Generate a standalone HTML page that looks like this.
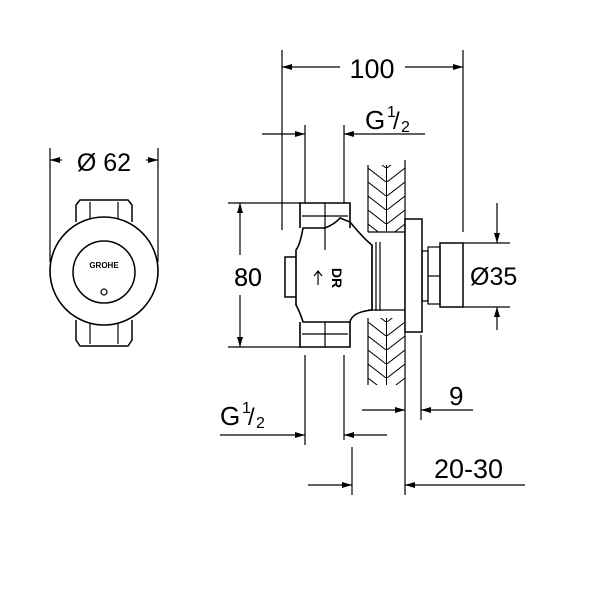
<!DOCTYPE html>
<html><head><style>body{margin:0;background:#fff}svg{display:block}text{font-family:"Liberation Sans",sans-serif;fill:#000}</style></head><body>
<svg width="600" height="600" viewBox="0 0 600 600" xmlns="http://www.w3.org/2000/svg">
<defs>
<marker id="a" viewBox="0 0 10 6" refX="10" refY="3" markerWidth="14" markerHeight="6" markerUnits="userSpaceOnUse" orient="auto"><path d="M0,0L10,3L0,6z" fill="#000"/></marker>
<pattern id="h" width="37" height="14" patternUnits="userSpaceOnUse" x="368" y="0"><path d="M0,0L18,14M37,0L19,14M18.5,0V14" stroke="#000" stroke-width="1" fill="none"/></pattern>
</defs>
<g stroke="#000" stroke-width="1.2" fill="none">
<line x1="50" y1="148" x2="50" y2="262"/><line x1="158" y1="148" x2="158" y2="262"/>
<line x1="62" y1="160" x2="50" y2="160" marker-end="url(#a)"/><line x1="146" y1="160" x2="158" y2="160" marker-end="url(#a)"/>
<path d="M76,222V205L80,200H128L132,205V222" stroke-width="1.5"/>
<path d="M76,320V340L80,346H128L132,340V320" stroke-width="1.5"/>
<line x1="90" y1="202" x2="90" y2="220"/><line x1="118" y1="202" x2="118" y2="220"/>
<line x1="90" y1="324" x2="90" y2="344"/><line x1="118" y1="324" x2="118" y2="344"/>
<circle cx="104" cy="271" r="54" fill="#fff" stroke-width="1.6"/>
<circle cx="104" cy="272" r="31" stroke-width="1.5"/>
<circle cx="104" cy="292" r="3"/>
<line x1="282" y1="50" x2="282" y2="230"/><line x1="463" y1="50" x2="463" y2="232"/>
<line x1="340" y1="67" x2="282" y2="67" marker-end="url(#a)"/><line x1="405" y1="67" x2="463" y2="67" marker-end="url(#a)"/>
<line x1="305" y1="125" x2="305" y2="203"/><line x1="344" y1="125" x2="344" y2="203"/>
<line x1="262" y1="134" x2="305" y2="134" marker-end="url(#a)"/><line x1="425" y1="134" x2="344" y2="134" marker-end="url(#a)"/>
<line x1="228" y1="203" x2="300" y2="203"/><line x1="228" y1="347" x2="300" y2="347"/>
<line x1="240" y1="255" x2="240" y2="203" marker-end="url(#a)"/><line x1="240" y1="295" x2="240" y2="347" marker-end="url(#a)"/>
<rect x="368" y="165" width="37" height="67" fill="url(#h)" stroke="none"/>
<rect x="368" y="318" width="37" height="67" fill="url(#h)" stroke="none"/>
<line x1="368" y1="165" x2="368" y2="232"/><line x1="368" y1="318" x2="368" y2="385"/>
<line x1="405" y1="160" x2="405" y2="495"/>
<line x1="368" y1="232" x2="405" y2="232"/><line x1="368" y1="310" x2="405" y2="310"/>
<path d="M300,228V203H350V228" stroke-width="1.6"/>
<line x1="325" y1="203" x2="325" y2="250"/><line x1="302" y1="216" x2="348" y2="216"/>
<path d="M300,322V347H350V322" stroke-width="1.6"/>
<line x1="325" y1="322" x2="325" y2="347"/><line x1="302" y1="334" x2="348" y2="334"/>
<path d="M303,228Q300,245 296,250V305Q300,312 303,322H350Q352,312 372,310V245Q365,240 350,222L340,218Q335,224 325,228Z" stroke-width="1.6"/>
<path d="M296,257H285V297H296" stroke-width="1.5"/>
<line x1="372" y1="245" x2="372" y2="310"/><line x1="376" y1="242" x2="376" y2="311"/><line x1="380" y1="242" x2="380" y2="311"/>
<path d="M318,285V272M314,276L318,271L322,276"/>
<rect x="405" y="219" width="17" height="113" fill="#fff" stroke-width="1.5"/>
<rect x="422" y="251" width="6" height="50"/>
<rect x="428" y="247" width="12" height="57"/>
<line x1="428" y1="276" x2="440" y2="276"/>
<rect x="440" y="243" width="23" height="64" stroke-width="1.5"/>
<line x1="463" y1="243" x2="510" y2="243"/><line x1="463" y1="307" x2="510" y2="307"/>
<line x1="497" y1="203" x2="497" y2="243" marker-end="url(#a)"/><line x1="497" y1="330" x2="497" y2="307" marker-end="url(#a)"/>
<line x1="305" y1="355" x2="305" y2="445"/><line x1="344" y1="355" x2="344" y2="440"/>
<line x1="220" y1="435" x2="305" y2="435" marker-end="url(#a)"/><line x1="387" y1="435" x2="344" y2="435" marker-end="url(#a)"/>
<line x1="421" y1="335" x2="421" y2="420"/>
<line x1="362" y1="410" x2="405" y2="410" marker-end="url(#a)"/><line x1="473" y1="410" x2="421" y2="410" marker-end="url(#a)"/>
<line x1="352" y1="447" x2="352" y2="495"/>
<line x1="308" y1="485" x2="352" y2="485" marker-end="url(#a)"/><line x1="525" y1="485" x2="405" y2="485" marker-end="url(#a)"/>
</g>
<text x="104" y="171" font-size="25" text-anchor="middle">Ø 62</text>
<text x="104" y="268" font-size="8" text-anchor="middle" font-weight="bold">GROHE</text>
<text x="372" y="78" font-size="27" text-anchor="middle">100</text>
<text x="365" y="129" font-size="26">G</text><text x="387" y="117" font-size="16">1</text><text x="393" y="129" font-size="24">/</text><text x="401" y="132" font-size="16">2</text>
<text x="248" y="286" font-size="25" text-anchor="middle" style="paint-order:stroke" stroke="#fff" stroke-width="6">80</text>
<text x="248" y="286" font-size="25" text-anchor="middle">80</text>
<text x="332" y="278" font-size="14" font-weight="bold" transform="rotate(90 332 278)" text-anchor="middle">DR</text>
<text x="470" y="285" font-size="25">Ø35</text>
<text x="220" y="425" font-size="26">G</text><text x="242" y="413" font-size="16">1</text><text x="248" y="425" font-size="24">/</text><text x="256" y="428" font-size="16">2</text>
<text x="449" y="405" font-size="26">9</text>
<text x="434" y="478" font-size="27">20-30</text>
</svg>
</body></html>
